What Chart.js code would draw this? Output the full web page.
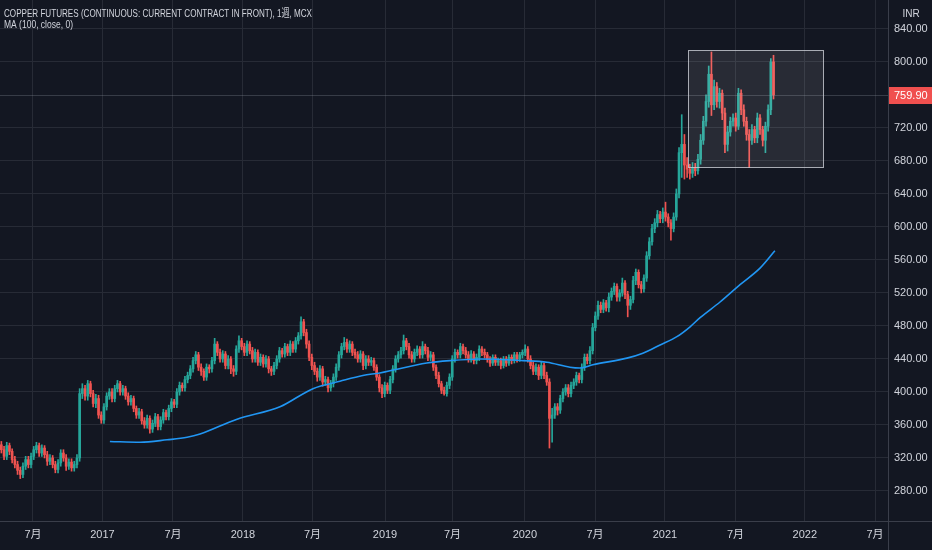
<!DOCTYPE html>
<html><head><meta charset="utf-8">
<script src="https://cdn.jsdelivr.net/npm/chart.js@4.4.0/dist/chart.umd.min.js"></script>
<style>html,body{margin:0;padding:0;background:#131722;overflow:hidden}canvas{display:block}</style>
</head><body><canvas id="c" width="932" height="550"></canvas>
<script>
// Weekly candles, index 0 = week of 2016-04-11
const opens=[
336,330,322,335,328,318,312,305,300,310,
318,312,322,330,335,326,332,324,316,320,
312,306,314,326,320,310,315,308,312,320,
398,404,395,410,398,386,392,372,366,382,
395,400,392,404,410,400,404,395,388,392,
380,372,376,365,360,368,355,362,370,358,
366,375,370,380,388,385,400,408,405,415,
420,428,438,445,430,425,418,430,428,438,
458,448,440,446,432,440,428,425,452,462,
455,448,458,450,440,448,436,442,434,440,
428,425,432,440,450,446,455,448,458,452,
462,468,485,472,458,442,432,425,418,428,
412,415,405,410,418,430,445,455,460,452,
458,448,445,440,446,432,440,436,438,430,
418,405,398,408,402,415,428,440,445,450,
462,455,445,440,448,452,445,455,450,442,
445,430,420,410,402,398,408,418,440,448,
445,455,450,445,440,446,438,442,452,448,
445,440,435,442,436,438,432,440,435,442,
438,445,440,445,448,452,440,432,425,430,
420,432,420,412,368,372,382,378,392,400,
405,398,408,412,420,415,430,442,438,450,
478,492,505,500,508,502,515,522,528,515,
520,532,518,505,512,535,545,530,525,538,
565,582,598,605,615,610,618,612,605,598,
612,640,690,700,675,670,665,672,668,682,
705,728,752,785,748,770,752,762,738,700,
715,728,732,722,762,742,728,712,705,718,
708,732,718,705,722,742,800];
const highs=[
340,334,339,338,331,322,316,309,314,322,
322,326,334,339,338,336,335,328,324,323,
316,318,330,330,324,319,319,316,324,404,
410,408,414,413,402,397,396,376,386,399,
404,404,408,414,413,408,407,399,396,395,
383,380,379,369,372,371,366,374,373,370,
379,378,384,392,391,404,412,411,419,424,
432,442,449,448,434,428,434,433,442,465,
461,452,450,449,444,443,432,456,468,465,
459,462,461,454,452,451,446,445,444,443,
431,436,444,454,453,459,458,462,461,466,
472,491,488,476,462,446,436,429,432,431,
419,418,414,422,434,449,459,466,464,462,
461,452,449,450,449,444,444,442,441,433,
421,409,412,411,419,432,444,449,454,469,
465,459,449,452,456,455,461,458,454,449,
448,433,424,413,406,412,422,444,452,451,
459,458,454,449,450,449,446,456,455,452,
448,443,445,445,441,441,443,443,445,445,
448,448,448,451,457,455,444,436,434,433,
436,435,424,416,380,386,386,396,404,409,
409,412,416,424,423,434,446,446,455,483,
497,510,509,512,511,520,526,532,531,524,
538,535,522,516,540,549,548,534,542,570,
587,603,610,620,619,623,630,616,609,617,
646,696,736,712,684,676,678,677,688,712,
734,760,795,812,778,775,768,766,744,722,
733,737,738,768,766,748,733,718,724,722,
738,736,722,727,748,804,808];
const lows=[
326,318,318,324,314,308,300,295,296,306,
308,308,318,326,322,322,320,311,312,308,
302,302,310,316,305,306,304,304,308,316,
392,390,390,394,382,381,368,362,362,378,
391,388,388,400,396,396,391,384,384,376,
368,368,361,356,356,350,351,358,354,354,
362,366,366,376,381,381,396,401,401,411,
416,424,434,426,420,414,414,423,424,434,
444,436,436,428,428,422,419,421,448,451,
444,444,446,436,436,432,432,430,430,423,
420,421,428,436,442,442,444,444,448,448,
458,464,468,453,438,427,421,413,414,407,
408,400,401,406,414,426,441,451,448,448,
444,441,436,436,427,428,432,432,426,414,
400,393,394,398,398,411,424,436,441,446,
451,441,436,436,444,441,441,446,438,438,
426,416,406,398,396,395,404,414,436,441,
441,446,441,436,436,434,434,438,444,441,
436,431,432,432,432,428,429,431,432,434,
435,436,437,441,444,436,428,421,421,415,
416,416,408,332,339,368,372,374,388,396,
394,394,404,408,411,411,426,434,434,446,
474,488,496,496,498,497,511,518,510,510,
516,513,491,500,508,530,526,520,521,534,
561,578,593,600,605,605,607,600,584,594,
608,635,660,658,660,658,660,662,664,676,
700,722,745,735,742,745,744,730,690,692,
710,722,716,718,736,722,705,672,700,702,
702,712,698,690,716,736,755];
const closes=[
330,322,335,328,318,312,305,300,310,318,
312,322,330,335,326,332,324,316,320,312,
306,314,326,320,310,315,308,312,320,398,
404,395,410,398,386,392,372,366,382,395,
400,392,404,410,400,404,395,388,392,380,
372,376,365,360,368,355,362,370,358,366,
375,370,380,388,385,400,408,405,415,420,
428,438,445,430,425,418,430,428,438,458,
448,440,446,432,440,428,425,452,462,455,
448,458,450,440,448,436,442,434,440,428,
425,432,440,450,446,455,448,458,452,462,
468,485,472,458,442,432,425,418,428,412,
415,405,410,418,430,445,455,460,452,458,
448,445,440,446,432,440,436,438,430,418,
405,398,408,402,415,428,440,445,450,462,
455,445,440,448,452,445,455,450,442,445,
430,420,410,402,398,408,418,440,448,445,
455,450,445,440,446,438,442,452,448,445,
440,435,442,436,438,432,440,435,442,438,
445,440,445,448,452,440,432,425,430,420,
432,420,412,368,372,382,378,392,400,405,
398,408,412,420,415,430,442,438,450,478,
492,505,500,508,502,515,522,528,515,520,
532,518,505,512,535,545,530,525,538,565,
582,598,605,615,610,618,612,605,598,612,
640,690,700,675,670,665,672,668,682,705,
728,752,785,748,770,752,762,738,700,715,
728,732,722,762,742,728,712,705,718,708,
732,718,705,722,742,800,759.9];
// 100-week moving average (week index, value)
const maWeeks=[40.2,51.4,61.4,68.8,73.6,87.3,103.2,115.4,125.4,133.9,140.2,157.6,166.2,177.3,193.2,202.1,210.6,214.3,219.1,231.7,237.6,244,250.2,255.1,258.8,266.2,273.6,281,286.5];
const maValues=[340,339,342,345,349,367,382,404,413,420,423,435,438,440,438,436,430,429,433,441,447,457,467,479,490,509,530,550,571];
// axis ticks
const xTickWeeks=[11.72,37.46,63.57,89.5,115.24,142.1,167.1,193.9,219.9,245.8,271.9,297.6,323.6];
const xTickLabels=['7月','2017','7月','2018','7月','2019','7月','2020','7月','2021','7月','2022','7月'];
const yTicks=[280,320,360,400,440,480,520,560,600,640,680,720,800,840];
const lastPrice=759.9;
const boxWeeks=[254.3,304.3];
const boxPrices=[673,815];
const titleText='COPPER FUTURES (CONTINUOUS: CURRENT CONTRACT IN FRONT), 1週, MCX';
const maText='MA (100, close, 0)';

const UP='#26a69a', DOWN='#ef5350';
const FONT="'Liberation Sans','Noto Sans CJK JP',sans-serif";
const TXT='#d1d4dc', GRID='#272b36', AXIS='#3a3e4a';
const colors=closes.map((c,i)=>c>=opens[i]?UP:DOWN);

function fitText(ctx,txt,x,y,w){
  const m=ctx.measureText(txt).width;
  ctx.save(); ctx.translate(x,y); ctx.scale(w/m,1); ctx.fillText(txt,0,0); ctx.restore();
}
const overlay={
  id:'overlay',
  beforeDraw(chart){const c=chart.ctx;c.save();c.fillStyle='#131722';c.fillRect(0,0,chart.width,chart.height);c.restore();},
  afterDatasetsDraw(chart){
    const {ctx,chartArea:a,scales:{x,y}}=chart;
    ctx.save();
    const py=Math.round(y.getPixelForValue(lastPrice))+0.5;
    ctx.strokeStyle='rgba(140,145,158,0.3)';ctx.lineWidth=1;
    ctx.beginPath();ctx.moveTo(a.left,py);ctx.lineTo(a.right,py);ctx.stroke();
    const bx0=Math.round(x.getPixelForValue(boxWeeks[0]))+0.5, bx1=Math.round(x.getPixelForValue(boxWeeks[1]))+0.5;
    const by0=Math.round(y.getPixelForValue(boxPrices[1]))+0.5, by1=Math.round(y.getPixelForValue(boxPrices[0]))+0.5;
    ctx.fillStyle='rgba(255,255,255,0.09)';ctx.fillRect(bx0,by0,bx1-bx0,by1-by0);
    ctx.strokeStyle='rgba(205,208,215,0.8)';ctx.strokeRect(bx0,by0,bx1-bx0,by1-by0);
    ctx.restore();
  },
  afterDraw(chart){
    const {ctx,chartArea:a,scales:{y}}=chart;
    ctx.save();
    ctx.strokeStyle=AXIS;ctx.lineWidth=1;
    ctx.beginPath();ctx.moveTo(a.right+0.5,0);ctx.lineTo(a.right+0.5,chart.height);
    ctx.moveTo(0,a.bottom+0.5);ctx.lineTo(chart.width,a.bottom+0.5);ctx.stroke();
    ctx.fillStyle=TXT;ctx.textBaseline='alphabetic';ctx.textAlign='left';
    ctx.font='11px '+FONT;
    fitText(ctx,titleText,4,16.5,308);
    fitText(ctx,maText,4,27.5,69);
    ctx.font='10px '+FONT;ctx.textAlign='center';
    ctx.fillText('INR',911,17);
    const py=Math.round(y.getPixelForValue(lastPrice));
    ctx.fillStyle='#f0504f';ctx.fillRect(a.right+1,py-8,chart.width-a.right-1,17);
    ctx.fillStyle='#ffffff';ctx.font='11px '+FONT;ctx.textAlign='left';ctx.textBaseline='middle';
    ctx.fillText(lastPrice.toFixed(2),a.right+6,py+1);
    ctx.restore();
  }
};

new Chart(document.getElementById('c'),{
  type:'bar',
  data:{datasets:[
    {type:'bar',data:lows.map((l,i)=>({x:i,y:[l,highs[i]]})),backgroundColor:colors,barThickness:1,grouped:false,order:3,borderWidth:0},
    {type:'bar',data:opens.map((o,i)=>({x:i,y:[o,closes[i]]})),backgroundColor:colors,barThickness:2,grouped:false,order:2,borderWidth:0,minBarLength:1},
    {type:'line',data:maWeeks.map((w,k)=>({x:w,y:maValues[k]})),borderColor:'#2196f3',borderWidth:1.6,pointRadius:0,cubicInterpolationMode:'monotone',order:1,fill:false}
  ]},
  options:{
    responsive:false,animation:false,events:[],devicePixelRatio:1,
    layout:{padding:0},
    plugins:{legend:{display:false},tooltip:{enabled:false}},
    scales:{
      x:{type:'linear',min:-0.5,max:328.4,offset:false,position:'bottom',
        grid:{color:GRID,drawTicks:false,offset:false},border:{display:false},
        afterBuildTicks:s=>{s.ticks=xTickWeeks.map(v=>({value:v}));},
        afterFit:s=>{s.height=29;s.paddingLeft=0;s.paddingRight=0;},
        ticks:{color:TXT,font:{family:FONT,size:11},padding:7,autoSkip:false,maxRotation:0,
          callback:(v,i)=>xTickLabels[i]}},
      y:{type:'linear',position:'right',min:243.6,max:875,
        grid:{color:GRID,drawTicks:false},border:{display:false},
        afterBuildTicks:s=>{s.ticks=yTicks.map(v=>({value:v}));},
        afterFit:s=>{s.width=44;s.paddingTop=0;s.paddingBottom=0;},
        ticks:{color:TXT,font:{family:FONT,size:11},padding:6,callback:v=>v.toFixed(2)}}
    }
  },
  plugins:[overlay]
});
</script></body></html>
